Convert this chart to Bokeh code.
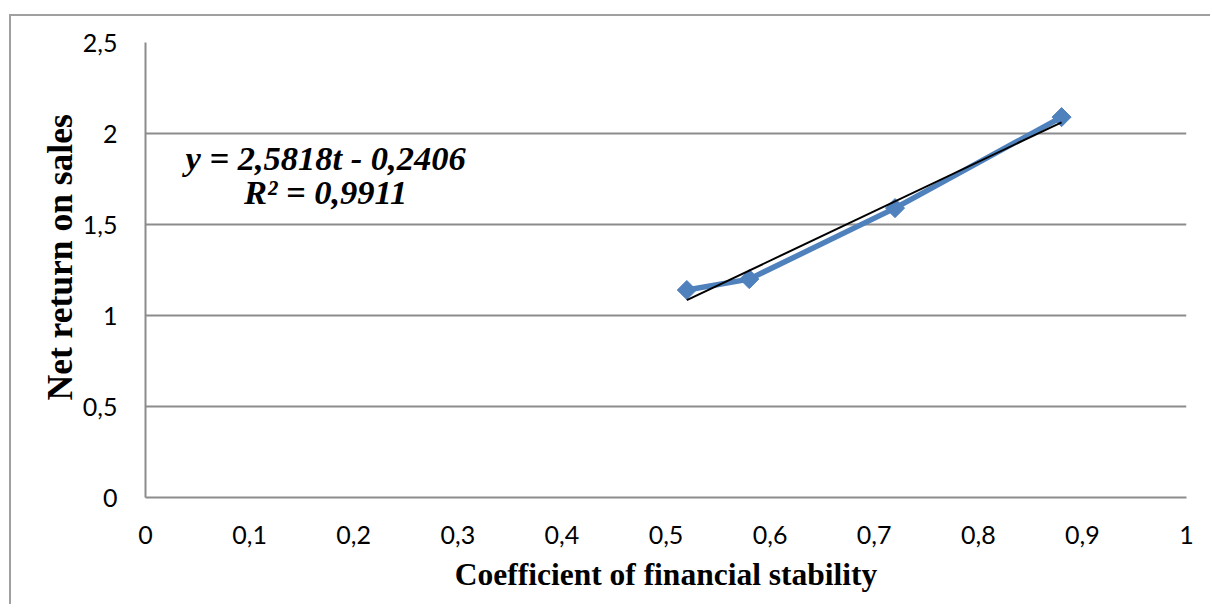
import numpy as np
from bokeh.plotting import figure
from bokeh.models import Range1d, FixedTicker, Label, Title, ColumnDataSource
from bokeh.embed import file_html
from bokeh.resources import INLINE

# ---- data ----
coef = [0.52, 0.58, 0.72, 0.88]
net_return = [1.14, 1.20, 1.59, 2.09]

x_ticks = [0, 0.1, 0.2, 0.3, 0.4, 0.5, 0.6, 0.7, 0.8, 0.9, 1.0]
x_tick_labels = ["0", "0,1", "0,2", "0,3", "0,4", "0,5", "0,6", "0,7", "0,8", "0,9", "1"]
y_ticks = [0, 0.5, 1.0, 1.5, 2.0, 2.5]
y_tick_labels = ["0", "0,5", "1", "1,5", "2", "2,5"]

x_title = "Coefficient of financial stability"
y_title = "Net return on sales"
eq_text = "y = 2,5818t - 0,2406"
r2_text = "R² = 0,9911"

# ---- figure ----
W, H = 1201, 590
p = figure(width=W, height=H, output_backend="svg", toolbar_location=None,
           x_range=Range1d(0, 1), y_range=Range1d(0, 2.5),
           min_border_left=134, min_border_top=26, min_border_right=26, min_border_bottom=109)
p.outline_line_color = None
p.background_fill_color = "white"
p.border_fill_color = "white"
p.margin = (14, 0, 0, 9)
p.styles = {"border-left": "2px solid #a0a0a0", "border-top": "2px solid #a0a0a0"}

GRID = "#8c8c8c"
TICK_FONT = "Lato"

p.xgrid.grid_line_color = None
p.ygrid.grid_line_color = GRID
p.ygrid.grid_line_width = 2
p.ygrid.ticker = FixedTicker(ticks=y_ticks)

for ax, ticks, labels in ((p.xaxis[0], x_ticks, x_tick_labels), (p.yaxis[0], y_ticks, y_tick_labels)):
    ax.ticker = FixedTicker(ticks=ticks)
    ax.major_label_overrides = {t: l for t, l in zip(ticks, labels)}
    ax.major_tick_line_color = None
    ax.minor_tick_line_color = None
    ax.axis_line_color = GRID
    ax.axis_line_width = 2
    ax.major_label_text_font = TICK_FONT
    ax.major_label_text_font_size = "25px"
    ax.major_label_text_color = "black"

p.xaxis.major_label_standoff = 22
p.yaxis.major_label_standoff = 22
p.xaxis.axis_label = x_title
p.xaxis.axis_label_text_font = "Liberation Serif"
p.xaxis.axis_label_text_font_style = "bold"
p.xaxis.axis_label_text_color = "black"
p.xaxis.axis_label_text_font_size = "31.5px"
p.xaxis.axis_label_standoff = 10

# y-axis title as a side title (starts ~97px above the frame bottom, as in the original)
p.add_layout(Title(text=y_title, align="left", offset=97, standoff=0,
                   text_font="Liberation Serif", text_font_style="bold",
                   text_font_size="35.5px", text_color="black"), "left")

# ---- series ----
src = ColumnDataSource(dict(x=coef, y=net_return))
p.line("x", "y", source=src, line_color="#4F81BD", line_width=5.5)
p.scatter("x", "y", source=src, marker="square", size=13.5, angle=np.pi / 4,
          fill_color="#4F81BD", line_color="#4F81BD")

# linear trendline computed from the data
slope, intercept = np.polyfit(coef, net_return, 1)
tx = [min(coef), max(coef)]
ty = [slope * v + intercept for v in tx]
p.line(tx, ty, line_color="black", line_width=2)

# equation labels
for txt, yy in ((eq_text, 1.866), (r2_text, 1.681)):
    p.add_layout(Label(x=0.173, y=yy, text=txt, text_align="center", text_baseline="alphabetic",
                       text_font="Liberation Serif", text_font_style="bold italic",
                       text_font_size="34.5px", text_color="black"))

open("out.html", "w").write(file_html(p, INLINE))
